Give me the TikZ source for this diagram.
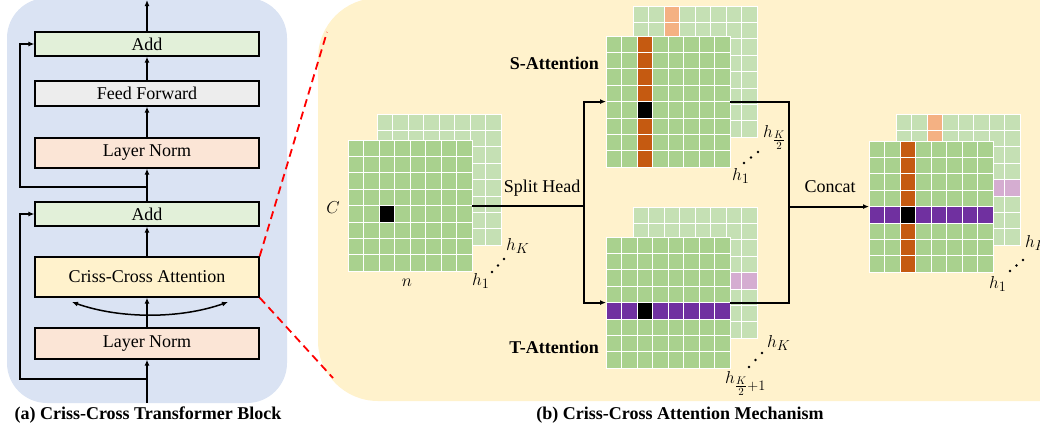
\documentclass[tikz,border=0pt]{standalone}
\usepackage{fontspec}
\setmainfont{Liberation Serif}
\usetikzlibrary{arrows.meta}
\DeclareMathSizes{18}{19}{14}{11}
\definecolor{bluebg}{HTML}{DAE3F3}
\definecolor{yellowbg}{HTML}{FFF2CC}
\definecolor{addc}{HTML}{E2F0D9}
\definecolor{ffc}{HTML}{EDEDED}
\definecolor{lnc}{HTML}{FBE5D6}
\definecolor{ccac}{HTML}{FFF2CC}
\definecolor{gfront}{HTML}{A9D18E}
\definecolor{gback}{HTML}{C5E0B4}
\definecolor{orng}{HTML}{C55A11}
\definecolor{lorng}{HTML}{F4B183}
\definecolor{purp}{HTML}{7030A0}
\definecolor{lpurp}{HTML}{D5ADD1}
\newcommand{\cellgrid}[6]{%
 \begin{scope}[shift={(#1,#2)}]
  \path[fill=#3] (0,0) rectangle (124,131.2);
  \path[fill=#4] (31,0) rectangle (46.5,131.2);
  \path[fill=#5] (0,65.6) rectangle (124,82);
  \path[fill=#6] (31,65.6) rectangle (46.5,82);
  \foreach \k in {1,...,7}{\draw[gridln] (\k*15.5,0) -- (\k*15.5,131.2); \draw[gridln] (0,\k*16.4) -- (124,\k*16.4);}
  \draw[gridln] (0,0) rectangle (124,131.2);
 \end{scope}}
\begin{document}
\begin{tikzpicture}[x=1pt,y=-1pt,
  box/.style={draw=black, line width=1.3pt, minimum width=224pt, inner sep=0pt, font=\fontsize{18}{20}\selectfont},
  arr/.style={line width=1.8pt, -{Latex[length=6pt,width=5pt]}},
  conn/.style={line width=1.8pt},
  lbl/.style={font=\fontsize{18}{20}\selectfont, inner sep=0pt},
  blbl/.style={font=\bfseries\fontsize{18}{20}\selectfont, inner sep=0pt},
  gridln/.style={white, line width=1pt},
  zoomln/.style={red, line width=1.8pt, dash pattern=on 8pt off 5pt},
  dotf/.style={fill=black}]
\useasboundingbox (0,0) rectangle (1040,432);
% panels
\fill[bluebg, rounded corners=40pt] (7,-2) rectangle (287,403);
\fill[yellowbg, rounded corners=60pt] (318,-2) rectangle (1120,401);
% left block
\node[box, fill=addc, minimum height=24pt] (add1) at (147,44) {Add};
\node[box, fill=ffc, minimum height=25pt] (ff) at (147,93.5) {Feed Forward};
\node[box, fill=lnc, minimum height=30pt] (ln1) at (147,153) {Layer Norm};
\node[box, fill=addc, minimum height=24pt] (add2) at (147,214) {Add};
\node[box, fill=ccac, minimum height=40pt] (cca) at (147,277) {Criss-Cross Attention};
\node[box, fill=lnc, minimum height=31pt] (ln2) at (147,343.5) {Layer Norm};
\coordinate (in) at (147,403);
\coordinate (out) at (147,0);
\coordinate (s1) at (147,379); \coordinate (s1c) at (20,379); \coordinate (s1t) at (20,214);
\coordinate (s2) at (147,187); \coordinate (s2c) at (20,187); \coordinate (s2t) at (20,44);
\draw[arr] (in) -- (ln2.south);
\draw[arr] (s1) -- (s1c) -- (s1t) -- (add2.west);
\draw[arr] (ln2.north) -- (cca.south);
\draw[arr] (cca.north) -- (add2.south);
\draw[arr] (add2.north) -- (ln1.south);
\draw[arr] (s2) -- (s2c) -- (s2t) -- (add1.west);
\draw[arr] (ln1.north) -- (ff.south);
\draw[arr] (ff.north) -- (add1.south);
\draw[arr] (add1.north) -- (out);
\coordinate (cl) at (72,302); \coordinate (cr) at (228,302);
\draw[line width=1.5pt, {Latex[length=6pt,width=5pt]}-{Latex[length=6pt,width=5pt]}] (cl) .. controls (120,319) and (180,319) .. (cr);
% zoom lines
\coordinate (z1) at (327,32); \coordinate (z2) at (333,378);
\draw[zoomln] (cca.north east) -- (z1);
\draw[zoomln] (cca.south east) -- (z2);
% grids
\cellgrid{377}{114}{gback}{none}{none}{none}
\cellgrid{348}{140}{gfront}{none}{none}{black}
\cellgrid{633}{6}{gback}{lorng}{none}{none}
\cellgrid{606}{36}{gfront}{orng}{none}{black}
\cellgrid{633}{207}{gback}{none}{lpurp}{none}
\cellgrid{606}{237}{gfront}{none}{purp}{black}
\cellgrid{896}{114}{gback}{lorng}{lpurp}{none}
\cellgrid{869}{141}{gfront}{orng}{purp}{black}
% connectors
\coordinate (g1e) at (472,205.6);
\coordinate (sp) at (584,205.6); \coordinate (spt) at (584,101.6); \coordinate (spb) at (584,302.6);
\coordinate (gsw) at (606,101.6); \coordinate (gtw) at (606,302.6);
\coordinate (gse) at (730,101.6); \coordinate (gte) at (730,302.6);
\coordinate (ct) at (789,101.6); \coordinate (cb) at (789,302.6); \coordinate (cm) at (789,206.6);
\coordinate (gow) at (869,206.6);
\draw[conn] (g1e) -- (sp);
\draw[arr] (sp) -- (spt) -- (gsw);
\draw[arr] (sp) -- (spb) -- (gtw);
\draw[conn] (gse) -- (ct) -- (cb) -- (gte);
\draw[arr] (cm) -- (gow);
% labels
\node[lbl] (split) at (542,188) {Split Head};
\node[lbl] (concat) at (830,187) {Concat};
\node[blbl, anchor=east] (satt) at (599,63) {S-Attention};
\node[blbl, anchor=east] (tatt) at (599,347) {T-Attention};
\node[lbl] (labc) at (333,208) {$C$};
\node[lbl] (labn) at (407,283) {$n$};
\node[lbl, anchor=base west] (h1a) at (472,285) {$h_1$};
\node[lbl, anchor=base west] (hka) at (506,250) {$h_K$};
\fill[dotf] (492,272) circle[radius=1.3pt] (498,265.5) circle[radius=1.3pt] (504,259) circle[radius=1.3pt];
\node[lbl, anchor=base west] (h1s) at (732,180) {$h_1$};
\node[lbl, anchor=base west] (hks) at (763,137) {$h_{\frac{K}{2}}$};
\fill[dotf] (744,163) circle[radius=1.3pt] (751,157.5) circle[radius=1.3pt] (758,152) circle[radius=1.3pt];
\node[lbl, anchor=base west] (hkt) at (767,347) {$h_K$};
\node[lbl, anchor=base west] (h1t) at (725,383) {$h_{\frac{K}{2}+1}$};
\fill[dotf] (749,367) circle[radius=1.3pt] (755.5,360) circle[radius=1.3pt] (762,353) circle[radius=1.3pt];
\node[lbl, anchor=base west] (hko) at (1025,247) {$h_K$};
\node[lbl, anchor=base west] (h1o) at (989,288) {$h_1$};
\fill[dotf] (1010,271) circle[radius=1.3pt] (1016.5,265.5) circle[radius=1.3pt] (1023,260) circle[radius=1.3pt];
% captions
\node[blbl] (capa) at (148,415) {(a) Criss-Cross Transformer Block};
\node[blbl] (capb) at (680,415) {(b) Criss-Cross Attention Mechanism};
\end{tikzpicture}
\end{document}
